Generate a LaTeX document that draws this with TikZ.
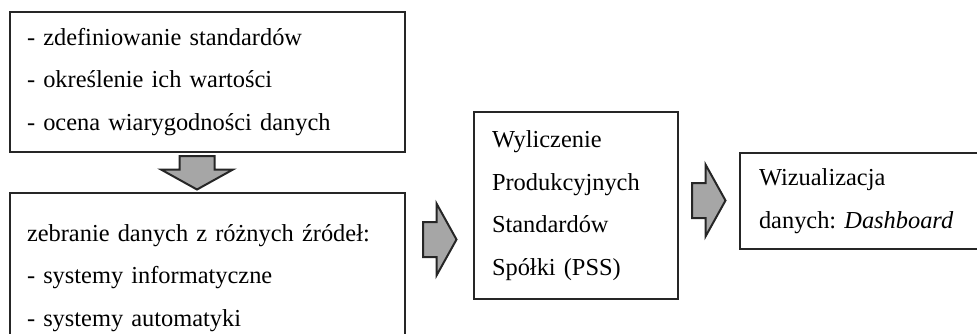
\documentclass[tikz,border=0pt]{standalone}
\usepackage{fontspec}
\setmainfont{Liberation Serif}
\usetikzlibrary{calc}

\begin{document}
\frenchspacing
\begin{tikzpicture}[x=0.5pt, y=-0.5pt,
    box/.style={draw=black!85, line width=1pt, rectangle, inner xsep=8.5pt, align=left, font=\fontsize{12.2}{21.25}\selectfont},
    bigarrow/.style={draw=black!85, line width=1pt, fill=gray!70, line join=miter},
    blockarrow/.pic={\draw[bigarrow] (0,-17.5) -- (13.5,-17.5) -- (13.5,-36) -- (33.5,0) -- (13.5,36) -- (13.5,17.5) -- (0,17.5) -- cycle;}]
    \useasboundingbox (0,0) rectangle (977,333);
    \clip (0,0) rectangle (977,333);
    % Standards to define
    \node[box, text width=180.5pt, minimum height=70pt] (define) at (207.5,82) {- zdefiniowanie standardów\\- określenie ich wartości\\- ocena wiarygodności danych};
    % Data sources
    \node[box, text width=180.5pt, minimum height=85pt] (collect) at (207.5,278) {zebranie danych z różnych źródeł:\\- systemy informatyczne\\- systemy automatyki};
    % PSS calculation
    \node[box, text width=84pt, inner xsep=9pt, minimum height=93.5pt] (calcpss) at (576,205.5) {Wyliczenie\\Produkcyjnych\\Standardów\\Spółki (PSS)};
    % Visualisation
    \node[box, text width=110pt, inner xsep=9.5pt, minimum height=48pt] (dashboard) at (869,201) {Wizualizacja\\danych: \textit{Dashboard}};
    % Block arrows
    \pic[rotate=-90] at ($(define.south)+(-10.5,3)$) {blockarrow};
    \pic at ($(collect.east)+(17,-38.5)$) {blockarrow};
    \pic at ($(calcpss.east)+(13,-5)$) {blockarrow};
\end{tikzpicture}
\end{document}
